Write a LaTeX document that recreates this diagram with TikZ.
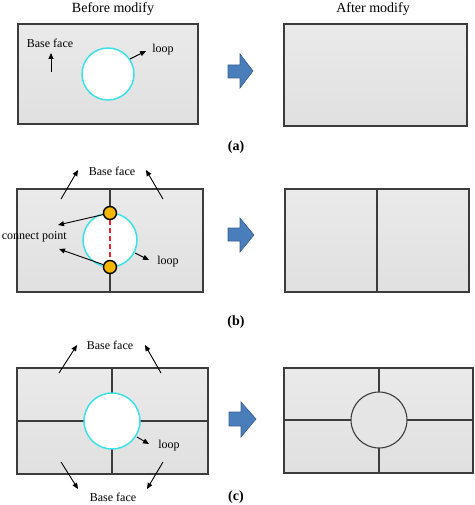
\documentclass[tikz,border=0pt]{standalone}
\usepackage{fontspec}
\setmainfont{Liberation Serif}
\usetikzlibrary{arrows.meta}
\definecolor{facetop}{HTML}{EAEAEA}
\definecolor{facebot}{HTML}{E0E0E0}
\definecolor{edgegray}{HTML}{3C3C3C}
\definecolor{loopcyan}{HTML}{3CE2E6}
\definecolor{dotorange}{HTML}{F5B800}
\definecolor{dashred}{HTML}{E8202A}
\definecolor{blockblue}{HTML}{4A7EBB}
\definecolor{blockedge}{HTML}{385F8E}
\begin{document}
\begin{tikzpicture}[x=1pt,y=-1pt,
  face/.style={draw=edgegray,line width=1.3pt,top color=facetop,bottom color=facebot},
  split/.style={draw=edgegray,line width=1.1pt},
  loopc/.style={draw=loopcyan,line width=1.5pt,fill=white},
  arr/.style={-{Triangle[length=6pt,width=5pt]},line width=0.9pt,black},
  lbl/.style={font=\fontsize{12}{14}\selectfont,inner sep=0pt},
  title/.style={font=\fontsize{14}{16}\selectfont,inner sep=0pt},
  panelcap/.style={font=\fontsize{14}{16}\selectfont\bfseries,inner sep=0pt},
  block/.style={fill=blockblue,draw=blockedge,line width=0.6pt},
  cdot/.style={circle,fill=dotorange,draw=black,line width=1.4pt,minimum size=13pt,inner sep=0pt},
  redd/.style={draw=dashred,line width=1.5pt,dash pattern=on 5pt off 3pt}]
\useasboundingbox (0,0) rectangle (474,505);
% titles
\node[title] (t1) at (113,9) {Before modify};
\node[title] (t2) at (373,9) {After modify};
% ---------- (a)
\draw[face] (18,24) rectangle (198,124);
\draw[loopc] (108,74) circle (26);
\node[lbl] (bf1) at (50,43) {Base face};
\coordinate (bf1s) at (51,72);
\coordinate (bf1e) at (51,53);
\draw[arr] (bf1s) -- (bf1e);
\node[lbl] (lp1) at (163,50) {loop};
\coordinate (lp1s) at (130,59);
\coordinate (lp1e) at (146,51);
\draw[arr] (lp1s) -- (lp1e);
\draw[block] (228,65) -- (240,65) -- (240,54) -- (253,71) -- (240,88) -- (240,78) -- (228,78) -- cycle;
\draw[face] (284,24) rectangle (467,126);
\node[panelcap] (ca) at (236,147) {(a)};
% ---------- (b)
\draw[face] (17,189) rectangle (203,292);
\draw[split] (110,189) -- (110,292);
\draw[loopc] (110,240) circle (27);
\node[cdot] (d1) at (110,213) {};
\node[cdot] (d2) at (110,267) {};
\draw[redd] (d1) -- (d2);
\node[lbl] (bf2) at (112,171) {Base face};
\coordinate (b2a) at (61,199); \coordinate (b2ae) at (78,170);
\coordinate (b2b) at (163,199); \coordinate (b2be) at (146,170);
\draw[arr] (b2a) -- (b2ae);
\draw[arr] (b2b) -- (b2be);
\node[lbl,anchor=east] (cp) at (67,237) {connect point};
\coordinate (cpe1) at (58,225);
\coordinate (cpe2) at (59,249);
\draw[arr] (d1) -- (cpe1);
\draw[arr] (d2) -- (cpe2);
\node[lbl] (lp2) at (168,262) {loop};
\coordinate (lp2s) at (135,253); \coordinate (lp2e) at (149,260);
\draw[arr] (lp2s) -- (lp2e);
\draw[block] (228,228) -- (240,228) -- (240,218) -- (254,235) -- (240,252) -- (240,241) -- (228,241) -- cycle;
\draw[face] (285,189) rectangle (469,292);
\draw[split] (377,189) -- (377,292);
\node[panelcap] (cb) at (236,322) {(b)};
% ---------- (c)
\draw[face] (17,368) rectangle (208,474);
\draw[split] (112,368) -- (112,474);
\draw[split] (17,421) -- (208,421);
\draw[loopc] (112,421) circle (28);
\node[lbl] (bf3) at (110,345) {Base face};
\node[lbl] (bf4) at (113,497) {Base face};
\coordinate (c1) at (59,373); \coordinate (c1e) at (77,345);
\coordinate (c2) at (161,373); \coordinate (c2e) at (145,345);
\coordinate (c3) at (61,462); \coordinate (c3e) at (78,489);
\coordinate (c4) at (163,462); \coordinate (c4e) at (147,489);
\draw[arr] (c1) -- (c1e);
\draw[arr] (c2) -- (c2e);
\draw[arr] (c3) -- (c3e);
\draw[arr] (c4) -- (c4e);
\node[lbl] (lp3) at (169,446) {loop};
\coordinate (lp3s) at (137,437); \coordinate (lp3e) at (149,444);
\draw[arr] (lp3s) -- (lp3e);
\draw[block] (229,412) -- (241,412) -- (241,402) -- (256,419) -- (241,437) -- (241,426) -- (229,426) -- cycle;
\draw[face] (284,368) rectangle (473,473);
\draw[split] (379,368) -- (379,473);
\draw[split] (284,420) -- (473,420);
\draw[split,fill=facetop!50!facebot] (379,420) circle (28);
\node[panelcap] (cc) at (236,497) {(c)};
\end{tikzpicture}
\end{document}
